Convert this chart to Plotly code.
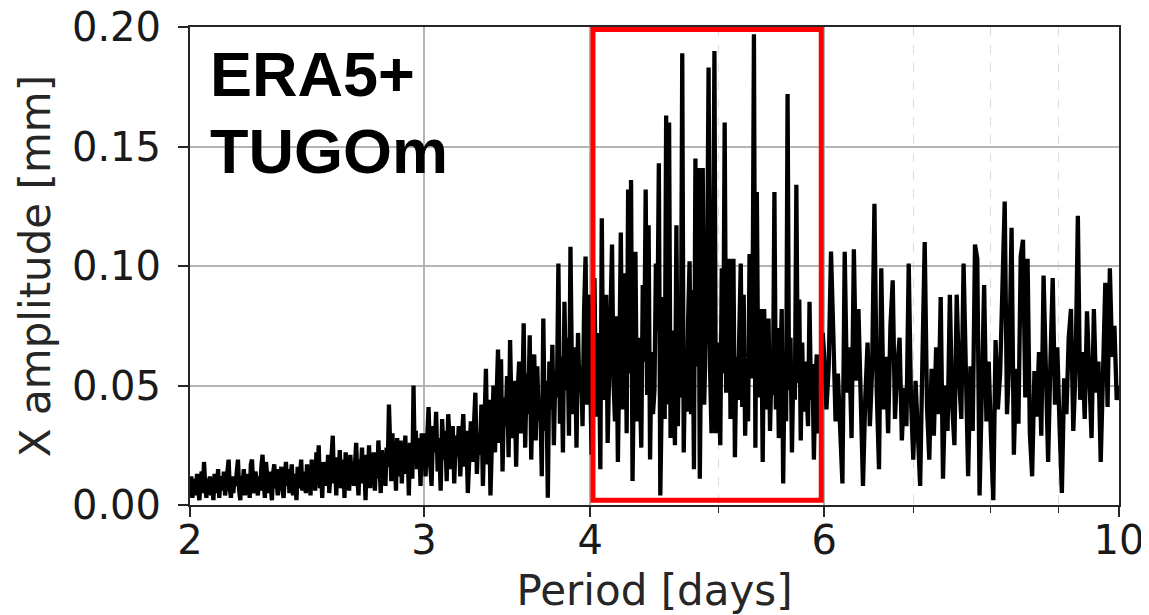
import numpy as np
import plotly.graph_objects as go

# Amplitudes, in micrometres (1e-3 mm), per period band
amp_2_3 = [
    6,12,3,9,11,4,13,7,2,10,14,5,18,8,3,11,6,12,4,9,
    2,13,8,5,15,3,10,12,6,14,4,9,16,19,7,3,12,5,11,8,
    14,19,6,2,12,9,15,4,11,7,13,3,17,19,8,5,14,10,4,12,
    6,16,21,9,3,18,11,5,14,8,2,13,17,7,10,4,15,9,16,6,
    3,12,18,8,15,5,11,17,4,13,9,2,16,7,12,19,6,14,10,5,
    17,8,13,4,19,10,15,6,22,12,25,7,14,3,18,11,16,8,21,5,
    13,24,29,9,17,4,20,12,23,7,15,19,3,22,10,16,6,21,13,18,
    8,23,26,11,4,19,14,24,9,17,2,21,12,25,7,18,14,22,6,20,
    11,27,15,5,23,13,19,8,24,16,42,21,10,30,14,25,6,28,18,12,
    27,9,22,16,29,13,24,4,26,18,11,50,20,31,15,28,23,8,30,19,
]
amp_3_4 = [
    30,12,26,41,18,8,33,22,39,14,28,6,36,19,31,10,38,24,15,33,
    9,29,20,33,12,27,38,16,31,5,24,35,18,40,47,13,30,21,42,8,
    36,57,17,44,4,31,50,22,39,65,26,61,14,45,33,54,20,69,37,28,
    52,16,47,60,30,41,76,24,55,38,71,19,49,63,27,58,35,44,12,78,
    31,52,3,60,40,67,25,56,45,101,34,62,22,85,48,70,29,108,53,38,
    66,24,72,47,58,33,81,104,42,88,
]
amp_4_6 = [
    58,21,70,95,37,62,72,15,120,44,66,88,26,57,74,109,52,35,79,18,
    61,114,40,83,97,30,132,55,136,10,68,106,35,70,49,24,92,60,132,46,
    117,19,64,38,48,101,73,143,4,55,87,36,163,42,160,28,73,51,25,117,
    33,80,45,189,22,61,39,77,102,38,90,15,145,58,141,11,76,141,42,66,
    96,183,57,30,86,190,30,68,47,25,99,55,160,47,72,103,36,84,103,20,
    62,44,79,101,41,88,29,58,35,105,53,70,197,24,131,45,64,82,18,82,
    40,66,78,31,57,46,131,40,74,28,55,82,9,63,35,172,48,70,22,59,
    44,134,51,86,27,68,39,60,48,33,85,44,59,19,52,63,30,48,61,72,
]
amp_6_10 = [
    63,40,58,106,72,35,55,30,9,106,47,66,28,107,52,82,38,8,45,68,
    33,57,126,48,15,99,40,62,30,75,94,36,58,70,27,49,33,101,44,19,
    52,34,8,61,110,41,19,57,29,66,38,87,11,50,31,88,42,25,88,54,
    36,101,46,12,58,31,109,103,4,47,92,35,60,28,2,69,40,55,93,127,
    38,61,116,21,57,34,104,111,45,103,30,12,56,37,64,29,96,48,18,60,
    95,42,66,33,5,53,38,70,82,31,57,121,44,64,36,81,50,28,82,47,
    60,18,55,93,41,99,62,75,44,50,
]

band_edges = [2, 3, 4, 6, 10]
bands = [amp_2_3, amp_3_4, amp_4_6, amp_6_10]

tick_vals = [2, 3, 4, 6, 10]
tick_text = ["2", "3", "4", "6", "10"]
minor_vals = [5, 7, 8, 9]
y_ticks = [0.00, 0.05, 0.10, 0.15, 0.20]
y_text = ["0.00", "0.05", "0.10", "0.15", "0.20"]

box_periods = [4.02, 5.97]
box_amp = [0.002, 0.199]

label_lines = ["ERA5+", "TUGOm"]

# sampling grid in period (x categories) for each band
periods = []
amps = []
for k, vals in enumerate(bands):
    last = k == len(bands) - 1
    p = np.geomspace(band_edges[k], band_edges[k + 1], len(vals), endpoint=last)
    periods.extend(p.tolist())
    amps.extend([v / 1000.0 for v in vals])

fig = go.Figure()
fig.add_trace(go.Scatter(
    x=periods, y=amps, mode="lines",
    line=dict(color="black", width=4.3),
    showlegend=False, hoverinfo="skip",
))

fig.add_shape(
    type="rect", xref="x", yref="y",
    x0=box_periods[0], x1=box_periods[1],
    y0=box_amp[0], y1=box_amp[1],
    line=dict(color="#ff0000", width=5), fillcolor="rgba(0,0,0,0)",
    layer="above",
)

fig.add_annotation(
    text=label_lines[0], xref="paper", yref="paper", x=0.019, y=0.902,
    xanchor="left", yanchor="middle", showarrow=False,
    font=dict(family="Liberation Sans", size=63, color="black", weight="bold"),
)
fig.add_annotation(
    text=label_lines[1], xref="paper", yref="paper", x=0.019, y=0.741,
    xanchor="left", yanchor="middle", showarrow=False,
    font=dict(family="Liberation Sans", size=63, color="black", weight="bold"),
)

axis_font = dict(family="DejaVu Sans", size=40, color="#1a1a1a")
title_font = dict(family="DejaVu Sans", size=42, color="#262626")

fig.update_xaxes(
    type="log", range=[np.log10(2), np.log10(10)],
    tickvals=tick_vals, ticktext=tick_text, tickfont=axis_font,
    ticks="outside", ticklen=10, tickwidth=1.5, tickcolor="#262626",
    ticklabelstandoff=-11, ticklabeloverflow="allow",
    showgrid=True, gridcolor="#b4b4b4", gridwidth=1.5,
    showline=True, linecolor="#262626", linewidth=2, mirror=True,
    zeroline=False,
    minor=dict(tickvals=minor_vals, ticks="outside", ticklen=6, tickwidth=1.2,
               tickcolor="#262626", showgrid=True, gridcolor="#dddddd",
               griddash="dash", gridwidth=1),
    title=dict(text="Period [days]", font=title_font, standoff=28),
)
fig.update_yaxes(
    range=[0, 0.20], tickvals=y_ticks, ticktext=y_text, tickfont=axis_font,
    ticks="outside", ticklen=10, tickwidth=1.5, tickcolor="#262626",
    ticklabelstandoff=9, ticklabeloverflow="allow",
    showgrid=True, gridcolor="#b4b4b4", gridwidth=1.5,
    showline=True, linecolor="#262626", linewidth=2, mirror=True,
    zeroline=False,
    title=dict(text="X amplitude [mm]", font=title_font, standoff=8),
)

# the page places the figure 8 px from the top-left corner
fig.update_layout(
    width=1141, height=607,
    margin=dict(l=182, r=30, t=19, b=110, autoexpand=False),
    paper_bgcolor="white", plot_bgcolor="white",
)

fig.write_html("out.html")
